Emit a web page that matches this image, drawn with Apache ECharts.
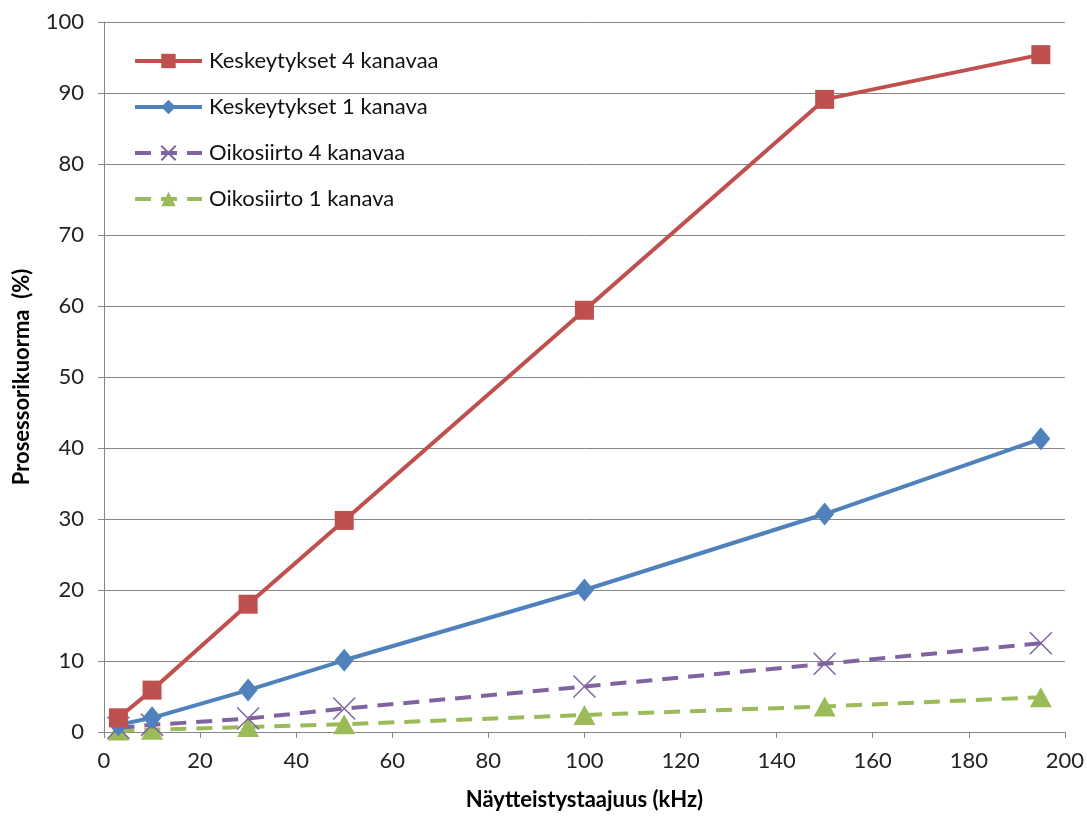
<!DOCTYPE html>
<html><head><meta charset="utf-8">
<script src="https://cdn.jsdelivr.net/npm/echarts@6/dist/echarts.min.js"></script>
<style>html,body{margin:0;padding:0;background:#fff}#c{width:1087px;height:816px}</style>
</head><body><div id="c"></div>
<script>
const freqs = [3, 10, 30, 50, 100, 150, 195];
const kesk4 = [2.0, 5.9, 18.0, 29.8, 59.4, 89.1, 95.4];
const kesk1 = [1.0, 2.0, 5.9, 10.1, 20.0, 30.7, 41.3];
const oiko4 = [0.6, 1.0, 1.9, 3.3, 6.4, 9.6, 12.5];
const oiko1 = [0.2, 0.3, 0.7, 1.1, 2.4, 3.6, 4.9];
const names = ['Keskeytykset 4 kanavaa', 'Keskeytykset 1 kanava', 'Oikosiirto 4 kanavaa', 'Oikosiirto 1 kanava'];
const xTicks = {min: 0, max: 200, interval: 20};
const yTicks = {min: 0, max: 100, interval: 10};

const pair = (vals) => freqs.map((f, i) => [f, vals[i]]);
const font = 'Lato, "Open Sans", sans-serif';
const chart = echarts.init(document.getElementById('c'));
chart.setOption({
  animation: false,
  textStyle: {fontFamily: font},
  grid: {left: 104, right: 19, top: 22, bottom: 83, containLabel: false},
  legend: {
    orient: 'vertical', left: 128, top: 45, itemWidth: 67, itemHeight: 18, itemGap: 24,
    lineStyle: {width: 4},
    textStyle: {fontSize: 22, color: '#111', fontFamily: font, padding: [0, 0, 0, 2]},
    data: names
  },
  xAxis: {
    type: 'value', min: xTicks.min, max: xTicks.max, interval: xTicks.interval,
    name: 'Näytteistystaajuus (kHz)', nameLocation: 'middle', nameGap: 57,
    nameTextStyle: {fontSize: 22, fontWeight: 'bold', color: '#000', fontFamily: font},
    axisLine: {lineStyle: {color: '#868686', width: 1}},
    axisTick: {show: true, length: 6, lineStyle: {color: '#868686'}},
    axisLabel: {fontSize: 22, color: '#222', margin: 18, fontFamily: font},
    splitLine: {show: false}
  },
  yAxis: {
    type: 'value', min: yTicks.min, max: yTicks.max, interval: yTicks.interval,
    name: 'Prosessorikuorma  (%)', nameLocation: 'middle', nameGap: 71,
    nameTextStyle: {fontSize: 22, fontWeight: 'bold', color: '#000', fontFamily: font},
    axisLine: {show: true, lineStyle: {color: '#868686', width: 1}},
    axisTick: {show: true, length: 6, lineStyle: {color: '#868686'}},
    axisLabel: {fontSize: 22, color: '#222', margin: 20, fontFamily: font},
    splitLine: {show: true, lineStyle: {color: '#868686', width: 1}}
  },
  series: [
    {name: names[0], type: 'line', data: pair(kesk4), symbol: 'rect', symbolSize: 19,
     lineStyle: {color: '#C0504D', width: 4}, itemStyle: {color: '#C0504D'}, z: 4},
    {name: names[1], type: 'line', data: pair(kesk1), symbol: 'diamond', symbolSize: [19, 23],
     lineStyle: {color: '#4F81BD', width: 4}, itemStyle: {color: '#4F81BD'}, z: 3},
    {name: names[2], type: 'line', data: pair(oiko4), symbol: 'path://M0,0L10,10M10,0L0,10', symbolSize: 22,
     lineStyle: {color: '#8064A2', width: 4, type: [16, 10]},
     itemStyle: {color: 'rgba(0,0,0,0)', borderColor: '#8064A2', borderWidth: 1.5}, z: 2},
    {name: names[3], type: 'line', data: pair(oiko1), symbol: 'triangle', symbolSize: [22, 20],
     lineStyle: {color: '#9BBB59', width: 4, type: [16, 10]}, itemStyle: {color: '#9BBB59'}, z: 1}
  ]
});
</script></body></html>
